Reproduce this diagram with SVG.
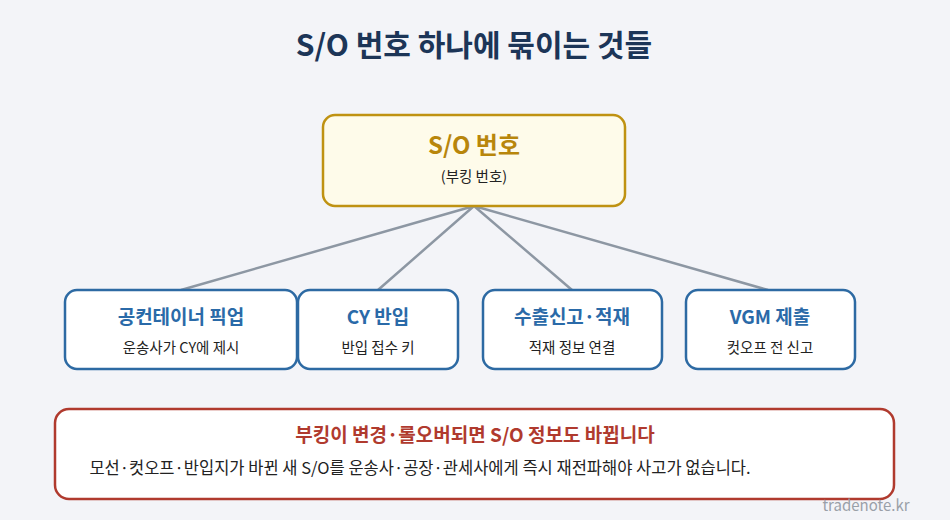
<svg xmlns="http://www.w3.org/2000/svg" width="950" height="520" viewBox="0 0 950 520">
<style>
text{font-family:"Noto Sans CJK KR","Noto Sans",sans-serif;text-anchor:middle}
.t{font-weight:700;font-size:19px;fill:#2a6aa8}
.s{font-size:14.5px;fill:#222}
.box{fill:#fff;stroke:#2d6aa3;stroke-width:2.5}
.c{stroke:#8d97a3;stroke-width:2.5;fill:none}
</style>
<rect width="950" height="520" fill="#f3f4f8"/>
<text x="474" y="56" font-size="30" font-weight="700" fill="#1c3557">S/O 번호 하나에 묶이는 것들</text>
<g id="connectors">
<path class="c" d="M474 206L181 290M474 206L378 290M474 206L572 290M474 206L768 290"/>
</g>
<g id="so"><rect x="323" y="115" width="302" height="91" rx="12" fill="#fefbea" stroke="#bf9212" stroke-width="2.5"/>
<text x="474" y="154" font-size="24" font-weight="700" fill="#b8860b">S/O 번호</text>
<text x="474" y="182" font-size="14.5" fill="#222">(부킹 번호)</text></g>
<g id="n1"><rect class="box" x="65" y="290" width="232" height="79" rx="12"/><text class="t" x="181" y="324">공컨테이너 픽업</text><text class="s" x="181" y="353">운송사가 CY에 제시</text></g>
<g id="n2"><rect class="box" x="298" y="290" width="160" height="79" rx="12"/><text class="t" x="378" y="324">CY 반입</text><text class="s" x="378" y="353">반입 접수 키</text></g>
<g id="n3"><rect class="box" x="483" y="290" width="179" height="79" rx="12"/><text class="t" x="572" y="324">수출신고·적재</text><text class="s" x="572" y="353">적재 정보 연결</text></g>
<g id="n4"><rect class="box" x="686" y="290" width="169" height="79" rx="12"/><text class="t" x="770" y="324">VGM 제출</text><text class="s" x="770" y="353">컷오프 전 신고</text></g>
<g id="warn"><rect x="55" y="409" width="839" height="90" rx="14" fill="#fff" stroke="#b03a2e" stroke-width="2.5"/>
<text x="475" y="442" font-size="19" font-weight="700" fill="#b03a2e">부킹이 변경·롤오버되면 S/O 정보도 바뀝니다</text>
<text x="420" y="474" font-size="16.5" fill="#222">모선·컷오프·반입지가 바뀐 새 S/O를 운송사·공장·관세사에게 즉시 재전파해야 사고가 없습니다.</text></g>
<text x="866" y="511" font-size="15" fill="#9aa0a8">tradenote.kr</text>
</svg>
